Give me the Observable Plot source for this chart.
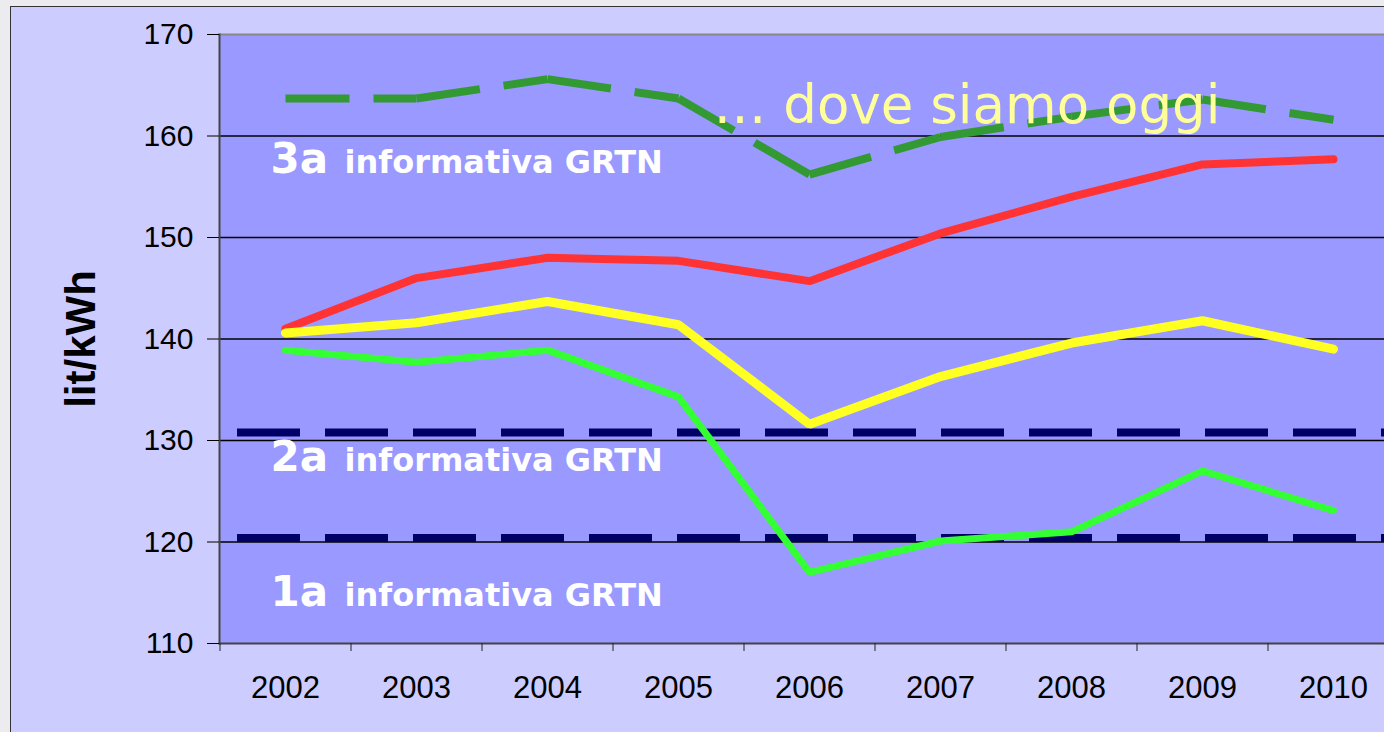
<!DOCTYPE html>
<html>
<head>
<meta charset="utf-8">
<script src="https://cdn.jsdelivr.net/npm/d3@7"></script>
<script src="https://cdn.jsdelivr.net/npm/@observablehq/plot@0.6"></script>
<style>
  html, body { margin: 0; padding: 0; overflow: hidden; width: 1384px; height: 732px; background: #ececf0; }
  #box { position: absolute; left: 10px; top: 6px; width: 1400px; height: 760px; background: #ccccff; border: 1.5px solid #333; }
  #chart { position: absolute; left: 0; top: 0; }
</style>
</head>
<body>
<div id="box"></div>
<div id="chart"></div>
<script>
// ---- data ----
const years = ["2002", "2003", "2004", "2005", "2006", "2007", "2008", "2009", "2010"];
const redSeries = [141.0, 146.0, 148.0, 147.7, 145.7, 150.4, 154.0, 157.2, 157.7];
const yellowSeries = [140.6, 141.6, 143.7, 141.4, 131.6, 136.3, 139.6, 141.8, 139.0];
const lightGreenSeries = [138.9, 137.7, 138.9, 134.3, 117.0, 120.1, 121.0, 127.0, 123.1];
const darkGreenSeries = [163.7, 163.7, 165.6, 163.7, 156.2, 159.9, 161.9, 163.6, 161.6];
const thresholds = [130.8, 120.4];
const yTicks = [110, 120, 130, 140, 150, 160, 170];
const gridTicks = [120, 130, 140, 150, 160];
const levelNames = ["3a", "2a", "1a"];
const levelY = [156.4, 127.0, 113.7];
const levelSub = "informativa GRTN";
const noteText = "\u2026 dove siamo oggi";
const noteX = "2005";
const noteY = 161.3;
const axisTitle = "lit/kWh";

const rows = (vals) => years.map((year, i) => ({year, value: vals[i]}));
const darkPairs = d3.pairs(rows(darkGreenSeries)).map(([a, b]) => ({x1: a.year, y1: a.value, x2: b.year, y2: b.value}));
const levels = levelNames.map((name, i) => ({name, y: levelY[i]}));

const chart = Plot.plot({
  width: 1384,
  height: 732,
  marginTop: 34,
  marginBottom: 89,
  marginLeft: 219,
  marginRight: 0,
  style: {background: "transparent", fontFamily: "Liberation Sans, Arial, sans-serif", color: "#000"},
  x: {type: "point", domain: years, range: [219, 1398], padding: 0.5},
  y: {domain: [110, 170]},
  marks: [
    Plot.frame({fill: "#9999ff", stroke: null}),
    Plot.gridY(gridTicks, {stroke: "#000", strokeOpacity: 1, strokeWidth: 1.5}),
    Plot.frame({anchor: "top", stroke: "#888", strokeWidth: 2}),
    Plot.frame({anchor: "left", stroke: "#444", strokeWidth: 2}),
    Plot.frame({anchor: "bottom", stroke: "#444", strokeWidth: 2}),
    Plot.axisY({ticks: yTicks, tickSize: 12, tickPadding: 14, fontSize: 30, label: null, color: "#000"}),
    Plot.axisX({tickSize: 8, dx: -65.5, tickFormat: () => "", label: null, color: "#222"}),
    Plot.axisX({tickSize: 0, tickPadding: 32, fontSize: 31, label: null, color: "#000"}),
    Plot.ruleY(thresholds, {stroke: "#000066", strokeWidth: 8, strokeDasharray: "63,25", strokeDashoffset: 70}),
    Plot.link(darkPairs, {x1: "x1", y1: "y1", x2: "x2", y2: "y2", stroke: "#339933", strokeWidth: 8, strokeDasharray: "64,24"}),
    Plot.line(rows(redSeries), {x: "year", y: "value", stroke: "#ff3333", strokeWidth: 8, strokeLinejoin: "miter"}),
    Plot.line(rows(yellowSeries), {x: "year", y: "value", stroke: "#ffff22", strokeWidth: 9, strokeLinejoin: "miter"}),
    Plot.line(rows(lightGreenSeries), {x: "year", y: "value", stroke: "#33ff33", strokeWidth: 7, strokeLinejoin: "miter"}),
    Plot.text(levels, {y: "y", text: "name", frameAnchor: "left", dx: 51, textAnchor: "start", lineAnchor: "bottom",
      fill: "#fff", fontSize: 42, fontWeight: "bold", fontFamily: "DejaVu Sans"}),
    Plot.text(levels, {y: "y", text: () => levelSub, frameAnchor: "left", dx: 125, textAnchor: "start", lineAnchor: "bottom",
      fill: "#fff", fontSize: 32, fontWeight: "bold", fontFamily: "DejaVu Sans"}),
    Plot.text([noteText], {x: () => noteX, y: () => noteY, dx: 35, textAnchor: "start", lineAnchor: "bottom",
      fill: "#ffff99", fontSize: 53, fontFamily: "DejaVu Sans"}),
    Plot.text([axisTitle], {frameAnchor: "left", dx: -137.5, rotate: -90, textAnchor: "middle", lineAnchor: "middle",
      fill: "#000", fontSize: 42, fontWeight: "bold", fontFamily: "Liberation Sans, Arial"})
  ]
});
document.getElementById("chart").appendChild(chart);
</script>
</body>
</html>
